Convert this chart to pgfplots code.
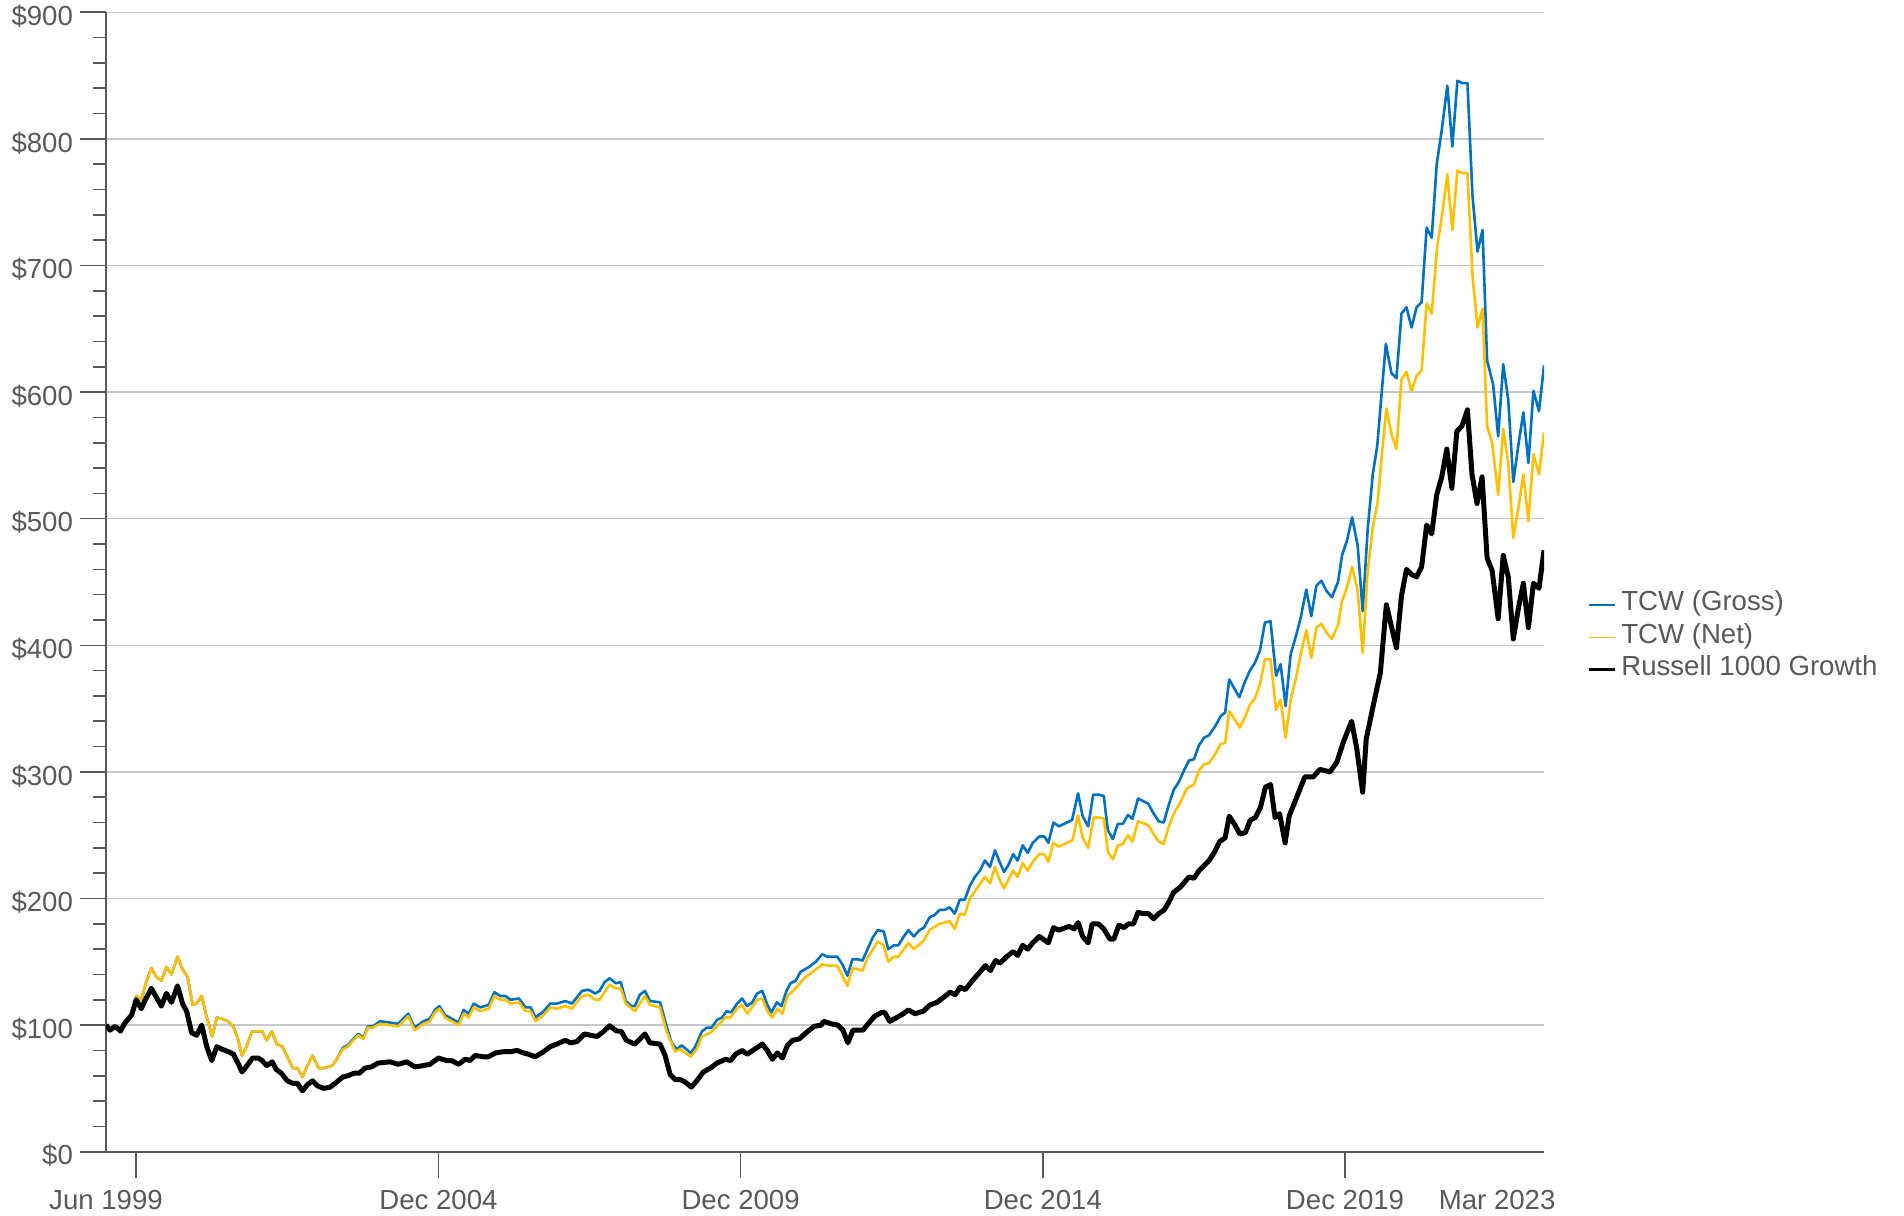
\documentclass[border=0pt]{standalone}
\usepackage{fontspec}
\setmainfont{Liberation Sans}
\usepackage{pgfplots}
\pgfplotsset{compat=1.18}
\definecolor{tcwblue}{HTML}{0070C0}
\definecolor{tcwgold}{HTML}{FFC000}
\definecolor{txtgray}{HTML}{595959}
\definecolor{gridgray}{HTML}{C8C8C8}
\begin{document}
\begin{tikzpicture}
\path[use as bounding box] (-53pt,-31.65pt) rectangle (899pt,575.85pt);
\begin{axis}[
  at={(0pt,0pt)}, anchor=south west, scale only axis,
  width=719pt, height=569.7pt,
  xmin=0, xmax=285.5, ymin=0, ymax=900,
  axis lines*=left,
  axis line style={draw=txtgray, line width=0.85pt},
  tick align=outside,
  major tick length=13pt, minor tick length=6.5pt,
  tick style={draw=txtgray, line width=0.8pt},
  xtick={6,66,126,186,246},
  xticklabels={,Dec 2004,Dec 2009,Dec 2014,Dec 2019},
  extra x ticks={0,276.2},
  extra x tick labels={Jun 1999,Mar 2023},
  extra x tick style={major tick style={draw=none}},
  ytick={0,100,200,300,400,500,600,700,800,900},
  yticklabels={\$0,\$100,\$200,\$300,\$400,\$500,\$600,\$700,\$800,\$900},
  minor y tick num=4,
  ymajorgrids, grid style={draw=gridgray, line width=0.7pt},
  ticklabel style={font=\fontsize{13.8}{16}\selectfont, text=txtgray},
  xticklabel style={inner sep=0pt, yshift=-6.2pt},
  yticklabel style={inner ysep=0pt, yshift=-2pt},
  legend style={at={(1.03,0.4515)}, anchor=west, draw=none, fill=none, inner sep=0pt,
    font=\fontsize{13.8}{16}\selectfont, text=txtgray,
    nodes={inner ysep=0pt, inner xsep=0pt, text height=11pt, text depth=5.15pt, anchor=west}},
  legend cell align=left,
  legend image code/.code={\draw[#1] (0pt,0pt) -- (13pt,0pt);},
  /tikz/every odd column/.append style={column sep=2.5pt},
]
\addplot[tcwblue, line width=1.3pt, line join=round, legend image post style={line width=0.7pt}] coordinates {
(0,100)(0.8,96)(1.8,99)(2.9,94)(3.8,101)(5.1,108)(6,123)(7,120)(8,134)(9,145)(10,138)(11,135)(12,146)(13,140)(14.2,154)(15.2,144)(16.2,138)(17.2,116)(18,117)(19,123)(20,106)(21.1,91)(22,106)(23,105)(24.2,103)(25.3,99)(26.2,89)(27,76)(27.9,83)(29,95)(30.1,95)(31,95)(31.9,88)(32.9,95)(33.9,85)(35,83)(36,75)(37.1,66)(38,66)(39,59)(40,68)(41,76)(42.2,66)(43.3,66)(44.9,68)(45.8,73)(47,82)(48,84)(49.1,89)(50.1,93)(51.1,90)(52,99)(53,99)
(54.4,103)(56.4,102)(58,101)(60,109)(61.3,98)(63,103)(64.3,105)(65.3,112)(66.2,115)(67.3,108)(70,102)(71,112)(72,109)(73,117)(74.3,114)(76,116)(77.1,126)(78.3,123)(79.3,123)(80.3,120)(82,121)(83.3,114)(84.3,114)(85.3,106)(86.9,111)(88.2,117)(89.5,117)(91.2,119)(92.5,117)(94.5,127)(95.8,128)(97.1,125)
(98,127)(99,134)(100,137)(101.2,133)(102.2,134)(103.2,119)(104.3,115)(105,115)(106,124)(107,127)(108,119)(110,118)(111.3,99)(112.3,86)(113.3,81)(114.3,84)(116.1,78)(117,83)(118.3,95)(119.3,98)(120.2,98)(121.3,104)(122.3,106)(123.2,111)(124.1,110)(125.3,117)(126.3,121)(127.3,115)(128.3,118)(129.3,125)(130.3,127)(131.3,116)(132.1,110)(133.2,118)(134.1,115)(135.1,127)(135.9,133)(136.9,135)(137.9,142)(139.6,146)(140.9,150)(142.2,156)(143.2,154)(144.2,154)(145.2,154)(146.2,148)(147.2,139)(148.2,152)(149.2,152)(150.2,151)(151.2,160)(152.2,169)(153.2,175)(154.4,174)(155.3,160)(156.4,163)(157.3,163)(158.4,170)(159.3,175)(160.4,170)(161.5,175)(162.4,177)(163.5,185)(164.5,187)(165.5,191)(166.5,191)(167.5,193)(168.5,188)(169.5,199)(170.5,199)(171.5,210)(172.5,217)(173.5,222)(174.5,230)(175.5,225)(176.5,238)
(177.5,228)(178.3,221)(179.1,226)(180.1,235)(181,230)(182,242)(183,236)(184,244)(185.3,249)(186.3,249)(187.1,244)(188.1,260)(189.2,257)(191.8,262)(193,283)(193.9,265)(195,257)(196,282)(197.1,282)(198.1,281)(198.9,254)(199.9,247)(200.9,259)(201.9,259)(202.9,266)(203.8,263)(204.9,279)(205.9,277)(206.9,275)(208,267)(209,261)(210,260)(211,274)(212,286)(213,292)(214,301)(215,309)(216,310)(217,321)(218,327)(219,329)(220.2,336)(221.3,344)(222.2,347)(223,373)(224,366)(225,359)(226,370)
(227.1,380)(228.1,386)(229.1,396)(230.1,418)(231.2,419)(232.3,376)(233.2,385)(234.2,352)(235.2,393)(236.3,408)(237.2,422)(238.3,444)(239.3,423)(240.3,447)(241.3,451)(242.3,443)(243.4,438)(244.6,450)(245.4,471)(246.4,483)(247.4,501)(248.5,479)(249.5,427)(250.5,492)(251.5,535)(252.4,558)(253.3,601)
(254.1,638)(255.2,615)(256.2,611)(257.2,662)(258.2,667)(259.2,651)(260.2,667)(261.2,671)(262.2,730)(263.2,722)(264.2,780)(265.2,807)(266.3,842)(267.3,794)(268.3,846)(269.3,844)(270.3,844)(271.3,755)(272.3,711)(273.3,728)(274.2,625)(275.4,606)(276.4,565)(277.4,622)(278.4,594)(279.4,529)(280.4,558)(281.4,584)(282.4,544)(283.4,601)(284.5,585)(285.5,621)
};
\addlegendentry{TCW (Gross)}
\addplot[tcwgold, line width=1.3pt, line join=round, legend image post style={line width=0.7pt}] coordinates {
(0,100)(0.8,96)(1.8,99)(2.9,94)(3.8,101)(5.1,108)(6,123)(7,120)(8,134)(9,145)(10,138)(11,135)(12,146)(13,140)(14.2,154)(15.2,144)(16.2,138)(17.2,116)(18,117)(19,123)(20,106)(21.1,91)(22,106)(23,105)(24.2,103)(25.3,99)(26.2,89)(27,76)(27.9,83)(29,95)(30.1,95)(31,95)(31.9,88)(32.9,95)(33.9,85)(35,83)(36,75)(37.1,66)(38,66)(39,59)(40,68)(41,76)(42.2,66)(43.3,66)(44.9,68)(45.8,73)
(47,81)(48,83)(49.1,88)(50.1,92)(51.1,89)(52,98)(53,98)(54.4,101)(56.4,100)(58,99)(60,107)(61.3,96)(63,101)(64.3,103)(65.3,110)(66.2,113)(67.3,106)(70,100)(71,109)(72,106)(73,114)(74.3,111)(76,113)(77.1,123)(78.3,120)(79.3,120)(80.3,117)(82,118)(83.3,111)(84.3,111)(85.3,103)(86.9,108)(88.2,114)(89.5,113)(91.2,115)(92.5,113)(94.5,123)(95.8,124)(97.1,120)
(98,120)(100,132)(101.2,129)(102.2,129)(103.2,117)(105,111)(107,123)(108,116)(110,114)(111.3,95)(113,79)(114,81)(116.1,75)(117.3,81)(118.3,91)(120,94)(121.3,99)(123,106)(124,106)(125.3,113)(126.3,116)(127.3,109)(129.3,120)(130.3,121)(131.3,111)(132.3,106)(133.3,113)(134.3,109)(135.3,123)(136.9,129)(138.6,137)(140.6,143)(142.2,148)(143.2,147)(145.2,147)(146.2,139)(147.2,131)(148.2,145)(150.2,143)(151.2,153)(153.2,166)(154.4,163)(155.3,150)(156.4,154)(157.3,154)(159.3,165)(160.4,160)(162.4,167)(163.5,175)(165.5,180)(167.5,182)(168.5,176)(169.5,188)(170.5,187)(171.5,200)(174.5,217)(175.5,212)(176.5,225)
(177.5,214)(178.3,208)(180.1,222)(181,217)(182,228)(183,222)(184,229)(185.3,235)(186.3,235)(187.1,229)(188.1,244)(189.2,241)(191.9,246)(193,266)(193.9,248)(195,240)(196.1,264)(197.1,264)(198.1,263)(198.9,237)(199.9,231)(200.9,242)(201.9,243)(202.9,250)(203.8,245)(204.9,261)(206.9,258)(208,251)(209,245)(210,243)(211,257)(212,267)(213.3,276)(214.6,287)(216,290)(217,301)(218,306)(219,307)(220.2,314)(221.3,322)(222.2,323)(223,348)(224,342)(225.1,335)(226.2,344)
(227.1,353)(228.1,358)(229.1,369)(230.1,389)(231.2,389)(232.3,349)(233.2,357)(234.2,327)(235.2,357)(236.3,375)(237.2,393)(238.3,412)(239.3,390)(240.3,414)(241.3,417)(242.3,410)(243.4,405)(244.6,416)(245.4,435)(246.4,446)(247.4,462)(248.5,443)(249.5,394)(250.5,459)(251.5,493)(252.5,514)(253.4,555)(254.2,587)(255.2,567)(256.2,555)(257.2,610)(258.2,616)(259.2,601)(260.2,613)(261.2,617)(262.2,670)(263.2,662)(264.3,715)(265.3,741)(266.3,772)(267.3,728)(268.3,775)(269.3,773)(270.3,773)(271.3,692)(272.3,651)(273.3,666)(274.2,573)(275.2,560)(276.4,519)(277.4,571)(278.4,544)(279.4,485)(280.4,508)(281.4,535)(282.4,498)(283.4,551)(284.5,535)(285.5,568)
};
\addlegendentry{TCW (Net)}
\addplot[black, line width=2.5pt, line join=round, legend image post style={line width=1.4pt}] coordinates {
(0,100)(0.8,96)(1.8,99)(2.9,95.5)(3.8,102)(5.1,108)(6,120)(7,113)(7.8,120)(9,129)(10,122)(11,115)(12,125)(13,118)(14.2,131)(15.2,117)(16,111)(17,94)(18,92)(19,100)(20,83)(21,72)(22,83)(23,81)(24.3,79)(25.3,77)(26.2,70)(27,63)(28,68)(29.1,74)(30.2,74)(31,72)(31.9,68)(33,71)(33.8,65)(34.8,62)(36,56)(37.1,54)(38,54)(39,48)(40,53)(41,56)(42,52)(43.2,50)(44.5,51)(45.8,55)(47,59)(48,60)(49.3,62)(50.3,62)(51.4,66)(52.7,67)(54,70)
(56.4,71)(58,69)(59.7,71)(61.3,67)(63,68)(64.3,69)(66,74)(67.6,72)(68.6,72)(70,69)(71.3,73)(72.3,72)(73.3,76)(74.9,75)(75.9,75)(77.3,78)(78.9,79)(80.3,79)(81.6,80)(82.9,78)(83.9,77)(85.2,75)(86.9,79)(88.2,83)(89.5,85)(91.2,88)(92.2,86)(93.5,87)(95,93)(96.2,92)(97.5,91)
(98.8,95)(100,99.5)(101.3,95.5)(102.3,95)(103.3,88)(105,85)(107,93)(108,86)(110,85)(111,76)(112,61)(113,57)(114,57)(115,55)(116.2,51)(117.3,56)(118.6,63)(120,66)(121.3,70)(123,73)(124,72)(125,77)(126.3,80)(127.3,77)(128.8,81)(130.3,85)(131.3,80)(132.3,73)(133.3,78)(134.3,74)(135.3,84)(136.3,88)(137.6,89)(139,94)(140.6,99)(142,100)(142.5,103)(144,101)(145.3,100)(146.3,96)(147.3,86)(148.3,96)(150.3,96)(151.3,101)(152.6,107)(154,110)(154.6,110)(155.6,103)(157,106)(158.3,109)(159.3,112)(160.6,109)(162.3,111)(163.6,116)(165,118)(166.3,122)(167.6,126)(168.6,124)(169.6,130)(170.6,128)(172,135)(173.3,141)(174.6,147)(175.6,143)(176.6,151)
(177.5,149)(178.8,154)(180.1,158)(181,155)(182,163)(183,160)(184,165)(185.3,170)(187.1,165)(188.1,177)(189.2,175)(191.2,178)(192.2,176)(193,181)(193.9,170)(195,165)(195.8,180)(197,180)(198.1,176)(199.3,168)(200.1,168)(201.1,179)(202.1,177)(203,180)(204,180)(204.9,189)(206,188)(207,188)(208,184)(209,188)(210.1,191)(211,197)(212,205)(213.3,209)(215,217)(216,216)(217,222)(218,226)(219,230)(220,236)(221.1,245)(222.2,248)(223,265)(224,259)(225.1,251)(226.2,252)(227.2,262)(228.2,264)(229.2,272)(230.2,288)(231.2,290)(232.1,264)(233,267)(234.1,244)(234.9,265)(236.9,285)
(238,296)(239.7,296)(241,302)(243,300)(244.4,308)(245.7,324)(247.3,340)(248.3,319)(249.5,284)(250.2,326)(252,360)(253,378)(254.2,432)(256.2,398)(257.2,439)(258.2,460)(259.2,456)(260.2,454)(261.2,462)(262.2,495)(263.2,488)(264.2,519)(265.2,533)(266.2,555)(267.2,524)(268.2,569)(269.2,573)(270.3,586)(271.2,535)(272.2,512)(273.2,533)(274.2,469)(275.2,459)(276.4,421)(277.4,471)(278.4,454)(279.4,405)(280.4,429)(281.4,449)(282.4,414)(283.4,449)(284.5,445)(285.5,475)
};
\addlegendentry{Russell 1000 Growth}
\end{axis}
\end{tikzpicture}
\end{document}
